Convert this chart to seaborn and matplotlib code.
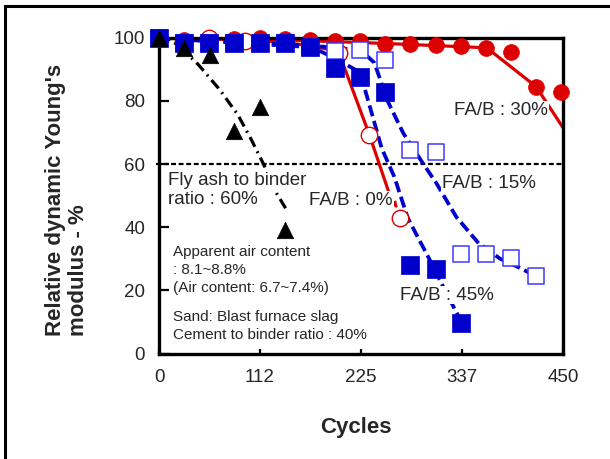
import numpy as np
import matplotlib
matplotlib.use('Agg')
import matplotlib.pyplot as plt
from matplotlib.patches import Rectangle
from matplotlib.ticker import FixedLocator, MultipleLocator
import seaborn as sns

# marker data (cycles, relative dynamic Young's modulus %)
cyc_fab0 = [0, 56, 96, 200, 234, 268]
val_fab0 = [100, 100, 98.8, 95.1, 69.2, 42.8]

cyc_fab30 = [0, 28, 56, 84, 112, 140, 168, 196, 224, 252, 280, 308, 336, 364, 392, 420, 448]
val_fab30 = [100, 99.3, 99.5, 99.5, 99.8, 99.6, 99.4, 99.0, 98.8, 98.0, 98.0, 97.7, 97.3, 96.6, 95.6, 84.5, 82.9]

cyc_fab15 = [0, 28, 56, 84, 112, 140, 168, 196, 224, 252, 280, 308, 336, 364, 392, 420]
val_fab15 = [100, 98.2, 98.2, 98.2, 98.2, 98.2, 97.0, 95.9, 96.0, 93.0, 64.3, 63.9, 31.5, 31.5, 30.2, 24.6]

cyc_fab45 = [0, 28, 56, 84, 112, 140, 168, 196, 224, 252, 280, 308, 336]
val_fab45 = [100, 98.2, 98.2, 98.2, 98.2, 98.2, 97.0, 90.3, 87.4, 82.8, 28.0, 26.7, 9.6]

cyc_fab60 = [0, 28, 57, 83, 112, 140]
val_fab60 = [100, 96.6, 94.5, 70.6, 78.0, 39.0]

# trend lines drawn by hand in the original figure
line_fab0_x = [0, 100, 170, 200, 234, 259]
line_fab0_y = [99.8, 99.5, 97.5, 95.5, 69.5, 48.5]
line_fab30_x = [0, 150, 250, 365, 420, 450]
line_fab30_y = [99.8, 99.2, 98.2, 96.8, 84.5, 71.5]
line_fab15_x = [0, 170, 225, 240, 254, 272, 294, 309, 331, 356, 380, 399, 420]
line_fab15_y = [99.8, 97.5, 96.0, 92.0, 80.3, 69.8, 60.2, 53.9, 43.3, 34.9, 30.0, 27.5, 24.5]
line_fab45_x = [0, 170, 196, 224, 233, 248, 262, 277, 287, 300, 315, 328, 336]
line_fab45_y = [99.8, 97.0, 93.5, 89.0, 80.0, 65.0, 56.0, 43.0, 37.5, 30.5, 22.0, 14.8, 10.5]
line_fab60_x = [0, 20, 44, 68, 88, 103, 116, 131, 141]
line_fab60_y = [100, 98, 91.4, 83.4, 75.5, 67.6, 60.2, 50.7, 46.0]

x_major = [0, 112.5, 225, 337.5, 450]
x_labels = ['0', '112', '225', '337', '450']

red = '#dd0000'
blue = '#0000cc'
blue_open = '#3a3aff'

sns.set_theme(style='white')
plt.rcParams['font.family'] = ['Liberation Sans', 'DejaVu Sans']

fig = plt.figure(figsize=(6.1, 4.59), dpi=100)
ax = fig.add_axes([0.2607, 0.2298, 0.6623, 0.6881])

# lines
sns.lineplot(x=line_fab30_x, y=line_fab30_y, ax=ax, color=red, lw=2.3, sort=False, estimator=None, zorder=2)
sns.lineplot(x=line_fab0_x, y=line_fab0_y, ax=ax, color=red, lw=2.3, sort=False, estimator=None, zorder=2)
sns.lineplot(x=line_fab15_x, y=line_fab15_y, ax=ax, color=blue, lw=2.7, sort=False, estimator=None,
             linestyle=(0, (3, 1.3)), zorder=2)
sns.lineplot(x=line_fab45_x, y=line_fab45_y, ax=ax, color=blue, lw=2.7, sort=False, estimator=None,
             linestyle=(0, (3, 1.3)), zorder=2)
sns.lineplot(x=line_fab60_x, y=line_fab60_y, ax=ax, color='black', lw=2.3, sort=False, estimator=None,
             linestyle=(0, (3.4, 1.6, 0.6, 1.6)), zorder=2)
ax.annotate('', xy=(266, 46), xytext=(259, 48.5),
            arrowprops=dict(arrowstyle='-|>', color=red, lw=1.5, mutation_scale=8, shrinkA=0, shrinkB=0))

# 60 % threshold
ax.plot([-3, 450], [60, 60], color='black', lw=1.6, linestyle=(0, (2.2, 1.2)), clip_on=False, zorder=1)

# markers
sns.scatterplot(x=cyc_fab30, y=val_fab30, ax=ax, color=red, edgecolor=red, marker='o', s=130,
                linewidth=0.5, clip_on=False, zorder=3)
sns.scatterplot(x=cyc_fab0, y=val_fab0, ax=ax, color='white', edgecolor=red, marker='o', s=140,
                linewidth=1.0, clip_on=False, zorder=4)
sns.scatterplot(x=cyc_fab15, y=val_fab15, ax=ax, color='white', edgecolor=blue_open, marker='s', s=135,
                linewidth=1.1, clip_on=False, zorder=5)
sns.scatterplot(x=cyc_fab45, y=val_fab45, ax=ax, color=blue, edgecolor=blue, marker='s', s=155,
                linewidth=0.5, clip_on=False, zorder=6)
sns.scatterplot(x=cyc_fab60, y=val_fab60, ax=ax, color='black', edgecolor='black', marker='^', s=140,
                linewidth=0.5, clip_on=False, zorder=7)

ax.set_xlim(0, 450)
ax.set_ylim(0, 100)
ax.xaxis.set_major_locator(FixedLocator(x_major))
ax.set_xticklabels(x_labels)
ax.xaxis.set_minor_locator(MultipleLocator(22.5))
ax.yaxis.set_major_locator(MultipleLocator(20))
ax.yaxis.set_minor_locator(MultipleLocator(5))
ax.tick_params(axis='x', which='both', direction='in', length=3.8, width=1.6, color='black',
               labelsize=13.5, pad=11, top=False)
ax.tick_params(axis='y', which='major', direction='in', length=7.5, width=1.6, color='black',
               labelsize=13.5, pad=10, right=False)
ax.tick_params(axis='y', which='minor', direction='in', length=3.8, width=1.6, color='black', right=False)
ax.tick_params(left=True, bottom=True)
for sp in ax.spines.values():
    sp.set_visible(True)
    sp.set_color('black')
    sp.set_linewidth(2.4)
ax.grid(False)

# annotations (white boxes hide the curves behind the labels, as in the original)
box = dict(fc='white', ec='none', pad=0.5)
ax.text(380.7, 77.1, 'FA/B : 30%', fontsize=13.5, ha='center', va='center', bbox=box, zorder=8)
ax.text(367, 53.9, 'FA/B : 15%', fontsize=13.5, ha='center', va='center', bbox=box, zorder=8)
ax.text(214, 48.6, 'FA/B : 0%', fontsize=13.5, ha='center', va='center', bbox=box, zorder=8)
ax.text(321, 18.5, 'FA/B : 45%', fontsize=13.5, ha='center', va='center', bbox=box, zorder=8)
ax.text(10.4, 54.9, 'Fly ash to binder', fontsize=13.5, ha='left', va='center', bbox=box, zorder=8)
ax.text(10.4, 48.8, 'ratio : 60%', fontsize=13.5, ha='left', va='center', bbox=box, zorder=8)
notes = ['Apparent air content', ': 8.1~8.8%', '(Air content: 6.7~7.4%)',
         'Sand: Blast furnace slag', 'Cement to binder ratio : 40%']
note_y = [32.2, 26.4, 20.6, 11.7, 5.9]
for t, y in zip(notes, note_y):
    ax.text(15.2, y, t, fontsize=11, ha='left', va='center')

fig.text(67 / 610, 1 - 200 / 459, "Relative dynamic Young's\nmodulus - %", rotation=90,
         fontsize=16, fontweight='bold', ha='center', va='center', multialignment='left', linespacing=1.15)
fig.text(356 / 610, 1 - 428 / 459, 'Cycles', fontsize=16, fontweight='bold', ha='center', va='center')

# outer frame (right and bottom edges lie outside the image)
fig.add_artist(Rectangle((4.5 / 610, -0.1), 1.2, 1 - 5.5 / 459 + 0.1, transform=fig.transFigure,
                         fill=False, edgecolor='black', lw=2.2))

fig.savefig('out.png', dpi=100)
